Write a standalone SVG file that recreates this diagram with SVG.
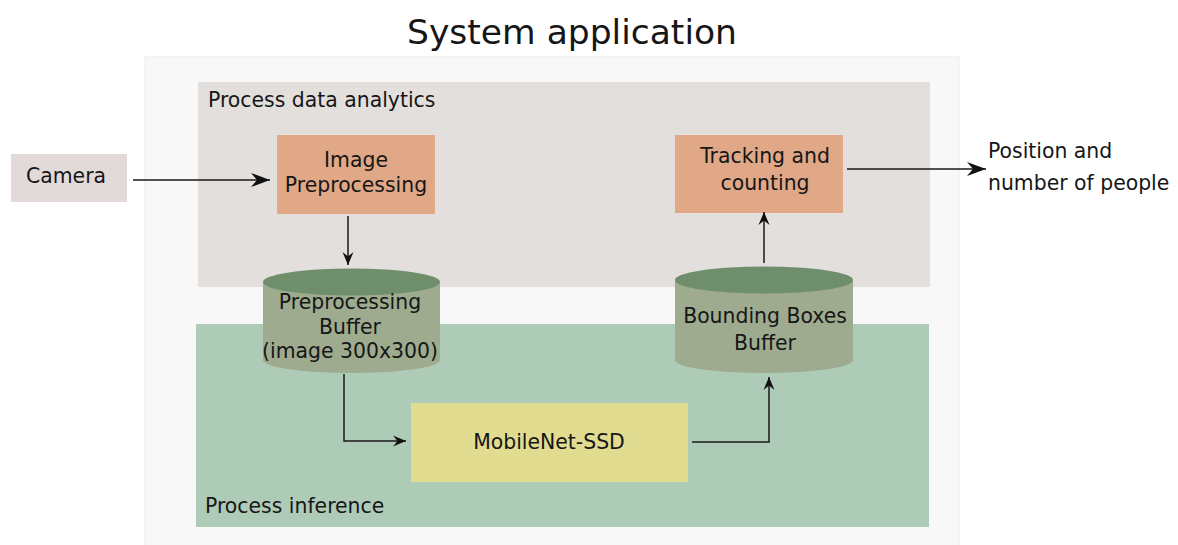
<svg xmlns="http://www.w3.org/2000/svg" width="1178" height="545" viewBox="0 0 1178 545">
  <style>
    text { font-family: "DejaVu Sans", "Liberation Sans", sans-serif; fill: #161616; }
    .lbl { font-size: 20.4px; }
    .mid { text-anchor: middle; }
    .proc { fill: #e0a886; }
    .cyl-body { fill: #9eab8f; }
    .cyl-top { fill: #6e8e6c; }
    .wire { fill: none; stroke: #1a1a1a; stroke-width: 1.5; }
  </style>
  <defs>
    <marker id="arrowBig" markerUnits="userSpaceOnUse" markerWidth="22" markerHeight="16" viewBox="-19 -8 20 16" refX="0" refY="0" orient="auto">
      <path d="M0,0 L-19,-7 L-13,0 L-19,7 z" fill="#111"/>
    </marker>
    <marker id="arrowSmall" markerUnits="userSpaceOnUse" markerWidth="16" markerHeight="12" viewBox="-13 -6 14 12" refX="0" refY="0" orient="auto">
      <path d="M0,0 L-13,-5.5 L-8.5,0 L-13,5.5 z" fill="#111"/>
    </marker>
  </defs>

  <rect width="1178" height="545" fill="#ffffff"/>

  <!-- title -->
  <text x="572" y="44" font-size="34.5" class="mid">System application</text>

  <!-- system container -->
  <rect id="system" x="145" y="57" width="814" height="490" fill="#f8f8f8" stroke="#ececec" stroke-width="1"/>

  <!-- process areas -->
  <g id="area-analytics">
    <rect x="198" y="82" width="732" height="205" fill="#e3dfdc"/>
    <text x="208" y="107" class="lbl">Process data analytics</text>
  </g>
  <g id="area-inference">
    <rect x="196" y="324" width="733" height="203" fill="#aecbb8"/>
    <text x="205" y="513" class="lbl">Process inference</text>
  </g>

  <!-- nodes -->
  <g id="camera">
    <rect x="11" y="154" width="116" height="48" fill="#e2d9d9"/>
    <text x="66" y="183" class="lbl mid">Camera</text>
  </g>

  <g id="image-preprocessing">
    <rect x="277" y="135" width="158" height="79" class="proc"/>
    <text x="356" y="167" class="lbl mid">Image</text>
    <text x="356" y="192" class="lbl mid">Preprocessing</text>
  </g>

  <g id="tracking-counting">
    <rect x="675" y="135" width="168" height="78" class="proc"/>
    <text x="765" y="163" class="lbl mid">Tracking and</text>
    <text x="765" y="190" class="lbl mid">counting</text>
  </g>

  <g id="preprocessing-buffer">
    <path d="M263,282 L263,360 A88.5,13 0 0 0 440,360 L440,282 Z" class="cyl-body"/>
    <ellipse cx="351.5" cy="282" rx="88.5" ry="13.5" class="cyl-top"/>
    <text x="350" y="309" class="lbl mid">Preprocessing</text>
    <text x="350" y="334" class="lbl mid">Buffer</text>
    <text x="350" y="358" class="lbl mid">(image 300x300)</text>
  </g>

  <g id="bounding-boxes-buffer">
    <path d="M675,280 L675,360 A89,13 0 0 0 853,360 L853,280 Z" class="cyl-body"/>
    <ellipse cx="764" cy="280" rx="89" ry="13.5" class="cyl-top"/>
    <text x="765" y="323" class="lbl mid">Bounding Boxes</text>
    <text x="765" y="350" class="lbl mid">Buffer</text>
  </g>

  <g id="mobilenet-ssd">
    <rect x="411" y="403" width="277" height="79" fill="#e2dc90"/>
    <text x="549" y="449" class="lbl mid">MobileNet-SSD</text>
  </g>

  <g id="output">
    <text x="988" y="158" class="lbl">Position and</text>
    <text x="988" y="190" class="lbl">number of people</text>
  </g>

  <!-- connectors -->
  <g id="connectors">
    <line x1="133" y1="180" x2="270" y2="180" class="wire" marker-end="url(#arrowBig)"/>
    <line x1="348" y1="216" x2="348" y2="265" class="wire" marker-end="url(#arrowSmall)"/>
    <polyline points="344,374 344,441 406,441" class="wire" marker-end="url(#arrowSmall)"/>
    <polyline points="692,442 769,442 769,377" class="wire" marker-end="url(#arrowSmall)"/>
    <line x1="764" y1="263" x2="764" y2="212" class="wire" marker-end="url(#arrowSmall)"/>
    <line x1="847" y1="169" x2="986" y2="169" class="wire" marker-end="url(#arrowBig)"/>
  </g>
</svg>
